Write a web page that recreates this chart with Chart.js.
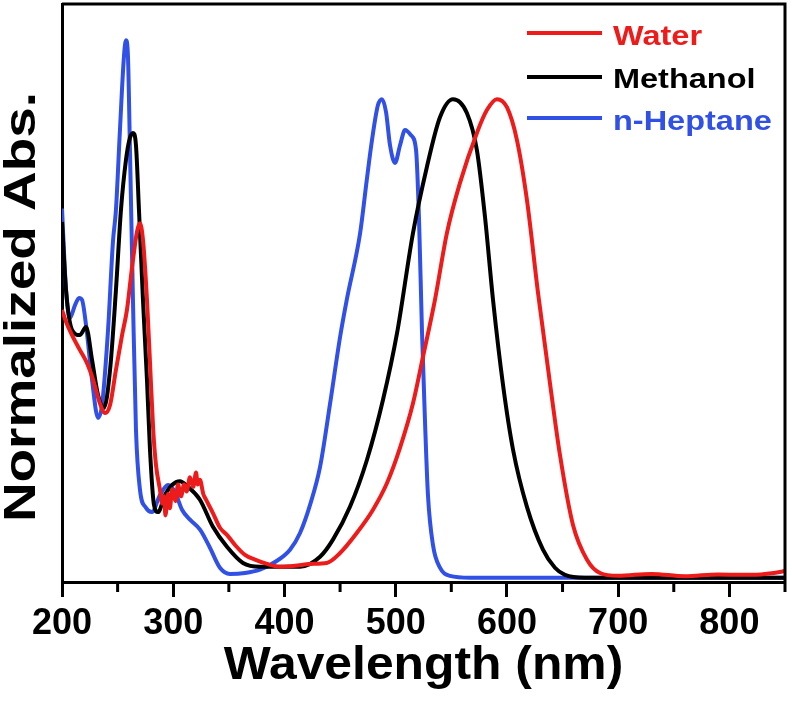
<!DOCTYPE html>
<html>
<head>
<meta charset="utf-8">
<script src="https://cdn.jsdelivr.net/npm/chart.js@4"></script>
<style>
  html, body { margin: 0; padding: 0; background: #ffffff; }
  #wrap { width: 792px; height: 703px; }
</style>
</head>
<body>
<div id="wrap"><canvas id="absChart" width="792" height="703"></canvas></div>
<script>
/* ---------- Data ---------- */
const xTicks = [200, 300, 400, 500, 600, 700, 800];
const xMinorTicks = [250, 350, 450, 550, 650, 750, 850];

const seriesNames = ["Water", "Methanol", "n-Heptane"];
const seriesColors = ["#ee1b1b", "#000000", "#3050e6"];

const waterNm = [200, 203.6, 209, 216, 222.5, 228, 234, 238.7, 243.2, 248.5,
    254, 258.4, 263, 267.4, 270, 272.8, 276.4, 279, 282, 284.5,
    288, 290, 291.7, 293, 295.3, 297, 299, 302, 304.3, 307,
    309.7, 312, 315, 318, 320.5, 322, 324, 327, 329.5, 335.7,
    342, 348.3, 355.5, 364.5, 373.5, 384.3, 396, 409.5, 423, 438,
    450, 465, 479.6, 492.2, 504, 515.5, 524.5, 535.3, 546, 557.8,
    573, 582, 591, 600, 609, 618, 628, 638.7, 647.7, 659.4,
    672, 683.7, 700, 730, 760, 790, 820, 840, 850];
const waterAbs = [0.557, 0.532, 0.504, 0.473, 0.445, 0.41, 0.361, 0.34, 0.357, 0.431,
    0.504, 0.557, 0.647, 0.721, 0.739, 0.704, 0.578, 0.452, 0.305, 0.231,
    0.18, 0.15, 0.165, 0.125, 0.17, 0.14, 0.18, 0.155, 0.19, 0.165,
    0.19, 0.175, 0.205, 0.185, 0.215, 0.19, 0.20, 0.17, 0.158, 0.13,
    0.099, 0.084, 0.063, 0.042, 0.032, 0.023, 0.017, 0.019, 0.023, 0.025,
    0.046, 0.088, 0.137, 0.193, 0.268, 0.36, 0.458, 0.578, 0.718, 0.824,
    0.929, 0.977, 1.0, 0.983, 0.914, 0.788, 0.592, 0.403, 0.252, 0.105,
    0.032, 0.004, -0.002, 0.002, -0.003, 0.001, 0.0, 0.004, 0.008];

const methanolNm = [200, 203.6, 209, 216, 221.6, 227, 232.4, 237.8, 243.2, 248.5,
    253, 257.5, 261, 263.8, 266.5, 269.2, 272.8, 276.4, 279.1, 282.7,
    286.3, 292.6, 298.9, 306, 313.3, 324, 335.7, 348.3, 362.7, 378,
    396, 414, 432, 443.6, 458.9, 474.2, 488.6, 501.2, 515.5, 528,
    539.8, 551.5, 564, 573, 580.3, 587.5, 596.5, 605.5, 618, 632.4,
    643.2, 652.2, 670, 850];
const methanolAbs = [0.742, 0.599, 0.515, 0.504, 0.521, 0.452, 0.378, 0.351, 0.431, 0.599,
    0.767, 0.872, 0.918, 0.929, 0.903, 0.767, 0.578, 0.41, 0.263, 0.147,
    0.132, 0.168, 0.189, 0.197, 0.185, 0.158, 0.101, 0.059, 0.025, 0.017,
    0.017, 0.017, 0.038, 0.074, 0.143, 0.242, 0.368, 0.508, 0.718, 0.857,
    0.962, 1.0, 0.971, 0.893, 0.752, 0.578, 0.399, 0.263, 0.143, 0.053,
    0.015, 0, -0.006, -0.006];

const heptaneNm = [200, 203.6, 207, 211.7, 215.3, 218, 221.6, 227, 232.4, 236,
    241.4, 245.8, 248.5, 252.1, 255.7, 257.5, 259.3, 261.1, 263.8, 266.5,
    270.1, 275.5, 280.9, 288.1, 295.3, 301.6, 307.9, 315.1, 324.1, 333,
    342, 351, 364.5, 378, 391.5, 405, 414, 423, 432, 441,
    450, 456, 468, 474, 478.7, 484, 487.7, 491.3, 494.9, 499.4,
    503.9, 508.4, 513.8, 518.3, 521, 523.6, 526.3, 529, 533.5, 539.8,
    548.8, 566.8, 638.7, 773.6, 850];
const heptaneAbs = [0.77, 0.60, 0.54, 0.567, 0.582, 0.578, 0.525, 0.41, 0.33, 0.357,
    0.515, 0.70, 0.767, 0.935, 1.09, 1.124, 1.09, 0.893, 0.578, 0.305,
    0.179, 0.141, 0.132, 0.168, 0.189, 0.174, 0.137, 0.116, 0.095, 0.057,
    0.015, 0.002, 0.004, 0.011, 0.027, 0.053, 0.088, 0.147, 0.227, 0.36,
    0.5, 0.578, 0.718, 0.83, 0.914, 0.987, 1.0, 0.973, 0.903, 0.866,
    0.903, 0.935, 0.924, 0.893, 0.746, 0.515, 0.326, 0.168, 0.063, 0.015,
    -0.002, -0.006, -0.006, -0.006, -0.006];

/* ---------- Helpers ---------- */
function toPoints(xs, ys) {
    return xs.map((x, i) => ({ x: x, y: ys[i] }));
}

const FONT = "'Liberation Sans', Arial, Helvetica, sans-serif";

/* ---------- Plugins: box, minor ticks, titles, legend ---------- */
const decorPlugin = {
    id: "decor",
    afterDraw(chart) {
        const ctx = chart.ctx;
        const area = chart.chartArea;
        const xs = chart.scales.x;

        ctx.save();
        ctx.strokeStyle = "#000";
        ctx.lineWidth = 3;

        // top + right frame
        ctx.beginPath();
        ctx.moveTo(area.left, area.top);
        ctx.lineTo(area.right, area.top);
        ctx.lineTo(area.right, area.bottom);
        ctx.stroke();

        // minor ticks
        xMinorTicks.forEach(v => {
            const px = xs.getPixelForValue(v);
            ctx.beginPath();
            ctx.moveTo(px, area.bottom);
            ctx.lineTo(px, area.bottom + 10);
            ctx.stroke();
        });

        // x title
        ctx.fillStyle = "#000";
        ctx.font = "bold 47px " + FONT;
        ctx.textAlign = "center";
        ctx.textBaseline = "alphabetic";
        ctx.save();
        ctx.translate((area.left + area.right) / 2, 679);
        ctx.scale(1.06, 1);
        ctx.fillText("Wavelength (nm)", 0, 0);
        ctx.restore();

        // y title
        ctx.save();
        ctx.translate(35, 307);
        ctx.rotate(-Math.PI / 2);
        ctx.scale(1.22, 1);
        ctx.font = "bold 45px " + FONT;
        ctx.fillText("Normalized Abs.", 0, 0);
        ctx.restore();

        // legend
        const legendY = [33, 77, 118];
        const legendBase = [45, 88, 130];
        seriesNames.forEach((name, i) => {
            ctx.strokeStyle = seriesColors[i];
            ctx.lineWidth = 4;
            ctx.beginPath();
            ctx.moveTo(527, legendY[i]);
            ctx.lineTo(602, legendY[i]);
            ctx.stroke();

            ctx.save();
            ctx.translate(613, legendBase[i]);
            ctx.scale(1.16, 1);
            ctx.fillStyle = seriesColors[i];
            ctx.font = "bold 28px " + FONT;
            ctx.textAlign = "left";
            ctx.fillText(name, 0, 0);
            ctx.restore();
        });

        ctx.restore();
    }
};

/* ---------- Chart ---------- */
const ctx = document.getElementById("absChart");

new Chart(ctx, {
    type: "line",
    data: {
        datasets: [
            { label: seriesNames[0], data: toPoints(waterNm, waterAbs) },
            { label: seriesNames[1], data: toPoints(methanolNm, methanolAbs) },
            { label: seriesNames[2], data: toPoints(heptaneNm, heptaneAbs) }
        ].map((d, i) => Object.assign(d, {
            borderColor: seriesColors[i],
            borderWidth: 4,
            pointRadius: 0,
            fill: false,
            cubicInterpolationMode: "monotone"
        }))
    },
    options: {
        responsive: false,
        animation: false,
        layout: { padding: { top: 4, right: 7, left: 0, bottom: 0 } },
        plugins: {
            legend: { display: false },
            tooltip: { enabled: false }
        },
        scales: {
            x: {
                type: "linear",
                min: 200,
                max: 850,
                afterFit(scale) { scale.height = 121; },
                afterBuildTicks(scale) {
                    scale.ticks = xTicks.map(v => ({ value: v }));
                },
                ticks: {
                    color: "#000",
                    padding: 5,
                    font: { family: FONT, size: 36, weight: "bold" },
                    maxRotation: 0
                },
                grid: {
                    display: true,
                    drawOnChartArea: false,
                    drawTicks: true,
                    tickLength: 15,
                    tickWidth: 3,
                    tickColor: "#000"
                },
                border: { display: true, color: "#000", width: 3 }
            },
            y: {
                min: -0.015,
                max: 1.2,
                afterFit(scale) { scale.width = 62; },
                ticks: { display: false },
                grid: { display: false, drawTicks: false },
                border: { display: true, color: "#000", width: 3 }
            }
        }
    },
    plugins: [decorPlugin]
});
</script>
</body>
</html>
